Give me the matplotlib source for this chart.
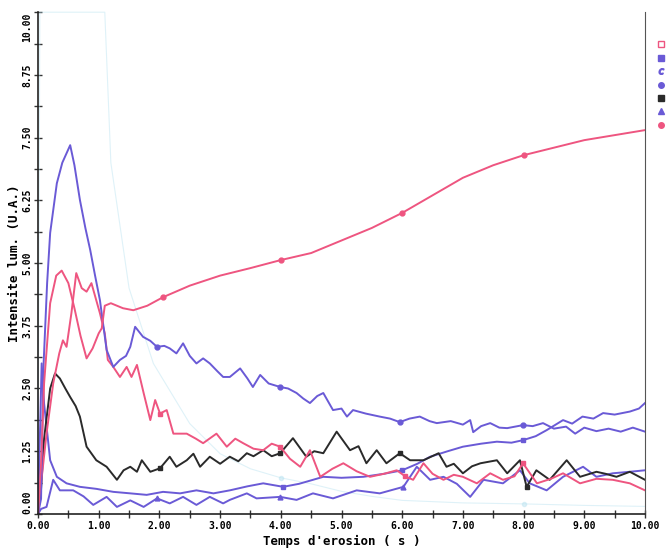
import numpy as np
import matplotlib
matplotlib.use("Agg")
from matplotlib import pyplot as plt
from matplotlib.lines import Line2D
from matplotlib.ticker import MultipleLocator

# pink, smooth rising curve
pink_a_x = [0, 0.05, 0.1, 0.2, 0.3, 0.39, 0.5, 0.6, 0.7, 0.8, 0.9, 1.0, 1.05, 1.1, 1.2, 1.4, 1.57, 1.8,
            2.06, 2.5, 3.0, 3.5, 4.0, 4.5, 5.0, 5.5, 6.0, 6.5, 7.0, 7.5, 8.0, 8.5, 9.0, 9.5, 10.0]
pink_a_y = [0, 1.0, 2.6, 4.2, 4.75, 4.85, 4.6, 4.1, 3.55, 3.1, 3.3, 3.6, 3.7, 4.15, 4.2, 4.1, 4.06, 4.15,
            4.32, 4.55, 4.75, 4.9, 5.06, 5.2, 5.45, 5.7, 6.0, 6.35, 6.7, 6.95, 7.15, 7.3, 7.45, 7.55, 7.65]

# pink, noisy falling curve
pink_b_x = [0, 0.05, 0.14, 0.25, 0.35, 0.41, 0.47, 0.55, 0.63, 0.72, 0.8, 0.88, 0.95, 1.02, 1.1, 1.15,
            1.24, 1.35, 1.46, 1.54, 1.63, 1.74, 1.85, 1.93, 2.01, 2.12, 2.23, 2.45, 2.6, 2.72, 2.94, 3.11,
            3.25, 3.38, 3.55, 3.71, 3.85, 3.99, 4.15, 4.32, 4.48, 4.65, 4.85, 5.03, 5.25, 5.47, 5.7, 5.91,
            6.05, 6.18, 6.35, 6.5, 6.68, 6.85, 7.0, 7.23, 7.45, 7.66, 7.85, 7.99, 8.22, 8.45, 8.65, 8.93,
            9.2, 9.47, 9.75, 10.0]
pink_b_y = [0, 0.6, 1.6, 2.6, 3.2, 3.46, 3.33, 4.0, 4.8, 4.5, 4.43, 4.6, 4.3, 4.0, 3.6, 3.07,
            2.93, 2.73, 2.93, 2.73, 2.97, 2.41, 1.87, 2.27, 2.0, 2.07, 1.6, 1.6, 1.5, 1.41, 1.6, 1.34,
            1.5, 1.41, 1.3, 1.27, 1.4, 1.34, 1.1, 0.94, 1.27, 0.74, 0.9, 1.01, 0.85, 0.74, 0.8, 0.87,
            0.75, 0.68, 1.01, 0.8, 0.68, 0.78, 0.74, 0.61, 0.81, 0.68, 0.75, 1.01, 0.61, 0.7, 0.81, 0.61,
            0.7, 0.68, 0.61, 0.47]

# blue, big early peak
blue_c_x = [0, 0.05, 0.09, 0.15, 0.2, 0.31, 0.4, 0.53, 0.6, 0.69, 0.78, 0.86, 0.94, 1.02, 1.13, 1.24,
            1.35, 1.45, 1.52, 1.6, 1.73, 1.85, 1.96, 2.08, 2.17, 2.28, 2.39, 2.5, 2.61, 2.72, 2.83, 2.95,
            3.05, 3.16, 3.33, 3.45, 3.54, 3.66, 3.8, 3.99, 4.12, 4.26, 4.37, 4.48, 4.6, 4.7, 4.86, 5.0,
            5.09, 5.19, 5.4, 5.63, 5.8, 5.96, 6.12, 6.29, 6.45, 6.57, 6.8, 7.0, 7.12, 7.17, 7.3, 7.45,
            7.6, 7.73, 7.99, 8.15, 8.32, 8.5, 8.7, 8.85, 9.0, 9.2, 9.4, 9.6, 9.8, 10.0]
blue_c_y = [0, 0.3, 2.94, 4.6, 5.6, 6.59, 7.0, 7.35, 6.95, 6.26, 5.7, 5.26, 4.75, 4.26, 3.27, 2.93,
            3.07, 3.15, 3.33, 3.73, 3.53, 3.45, 3.33, 3.35, 3.3, 3.2, 3.4, 3.15, 3.0, 3.1, 3.0, 2.85,
            2.73, 2.73, 2.9, 2.7, 2.53, 2.77, 2.6, 2.53, 2.5, 2.41, 2.3, 2.21, 2.35, 2.41, 2.07, 2.1,
            1.94, 2.07, 2.0, 1.94, 1.9, 1.83, 1.9, 1.94, 1.85, 1.81, 1.85, 1.78, 1.87, 1.63, 1.75, 1.81,
            1.72, 1.71, 1.77, 1.75, 1.81, 1.7, 1.74, 1.6, 1.72, 1.65, 1.7, 1.64, 1.72, 1.64]

# blue, low then rising
blue_e_x = [0, 0.03, 0.06, 0.1, 0.2, 0.31, 0.47, 0.69, 0.96, 1.24, 1.52, 1.79, 2.06, 2.34, 2.61, 2.89,
            3.16, 3.45, 3.71, 4.04, 4.3, 4.53, 4.7, 5.0, 5.36, 5.7, 6.0, 6.25, 6.46, 6.75, 7.0, 7.3,
            7.56, 7.8, 7.99, 8.2, 8.38, 8.65, 8.8, 8.97, 9.15, 9.31, 9.5, 9.75, 9.9, 10.0]
blue_e_y = [0, 1.5, 3.0, 2.2, 1.07, 0.74, 0.61, 0.54, 0.5, 0.44, 0.41, 0.38, 0.44, 0.41, 0.47, 0.41,
            0.47, 0.55, 0.61, 0.54, 0.6, 0.68, 0.74, 0.72, 0.74, 0.8, 0.87, 1.0, 1.14, 1.25, 1.34, 1.4,
            1.44, 1.42, 1.47, 1.55, 1.67, 1.87, 1.8, 1.94, 1.9, 2.01, 1.98, 2.04, 2.1, 2.21]

# blue, lowest curve
blue_f_x = [0, 0.05, 0.14, 0.25, 0.36, 0.58, 0.75, 0.91, 1.13, 1.3, 1.52, 1.74, 1.96, 2.17, 2.39, 2.61,
            2.83, 3.05, 3.16, 3.44, 3.6, 3.99, 4.26, 4.53, 4.86, 5.25, 5.63, 6.02, 6.24, 6.46, 6.68, 6.9,
            7.12, 7.34, 7.66, 7.94, 8.1, 8.38, 8.65, 8.98, 9.2, 9.47, 9.75, 10.0]
blue_f_y = [0, 0.1, 0.14, 0.68, 0.47, 0.47, 0.35, 0.18, 0.34, 0.14, 0.27, 0.14, 0.31, 0.21, 0.34, 0.18,
            0.34, 0.21, 0.28, 0.41, 0.31, 0.34, 0.28, 0.41, 0.31, 0.47, 0.41, 0.54, 0.94, 0.68, 0.74, 0.6,
            0.34, 0.68, 0.61, 0.87, 0.61, 0.47, 0.74, 0.94, 0.74, 0.81, 0.84, 0.87]

# black curve
black_x = [0, 0.05, 0.1, 0.2, 0.28, 0.36, 0.45, 0.53, 0.62, 0.69, 0.8, 0.96, 1.13, 1.3, 1.41, 1.52,
           1.63, 1.71, 1.85, 2.01, 2.17, 2.28, 2.45, 2.56, 2.67, 2.83, 3.0, 3.16, 3.3, 3.44, 3.55, 3.71,
           3.85, 3.99, 4.2, 4.42, 4.55, 4.7, 4.92, 5.14, 5.28, 5.41, 5.58, 5.74, 5.96, 6.13, 6.35, 6.6,
           6.73, 6.85, 7.0, 7.15, 7.29, 7.56, 7.73, 7.94, 8.05, 8.21, 8.43, 8.71, 8.93, 9.2, 9.35, 9.53,
           9.75, 10.0]
black_y = [0, 0.5, 1.5, 2.5, 2.8, 2.7, 2.5, 2.33, 2.15, 1.94, 1.34, 1.07, 0.94, 0.68, 0.87, 0.94,
           0.84, 1.07, 0.84, 0.91, 1.14, 0.94, 1.07, 1.2, 0.94, 1.14, 1.0, 1.14, 1.05, 1.21, 1.15, 1.27,
           1.15, 1.21, 1.51, 1.14, 1.25, 1.21, 1.64, 1.27, 1.35, 1.01, 1.27, 1.01, 1.21, 1.07, 1.07, 1.21,
           0.94, 1.0, 0.81, 0.95, 1.01, 1.07, 0.81, 1.07, 0.54, 0.87, 0.68, 1.07, 0.74, 0.84, 0.8, 0.74,
           0.84, 0.68]

# faint cyan curve (saturated at the top early on)
cyan_x = [0, 0.03, 0.1, 0.5, 1.1, 1.2, 1.5, 1.9, 2.5, 3.0, 3.5, 4.0, 4.5, 5.0, 5.5, 6.0, 7.0, 8.0, 9.0, 10.0]
cyan_y = [0, 10, 10, 10, 10, 7.0, 4.5, 3.0, 1.8, 1.2, 0.9, 0.72, 0.6, 0.45, 0.35, 0.27, 0.22, 0.2, 0.17, 0.15]

x_ticks = np.arange(0, 10.01, 1.0)
y_ticks = np.arange(0, 10.01, 1.25)

PINK = "#ee5580"
BLUE = "#6a5ad6"
BLACK = "#2a2a2a"
CYAN = "#b8e2f0"

mono = {"family": "DejaVu Sans Mono", "weight": "bold"}


def mark_idx(xs, targets=(2, 4, 6, 8)):
    xs = np.asarray(xs)
    return [int(np.argmin(np.abs(xs - t))) for t in targets]


fig = plt.figure(figsize=(6.67, 5.55), dpi=100)
ax = fig.add_axes([0.057, 0.074, 0.910, 0.904])

ax.plot(cyan_x, cyan_y, color=CYAN, lw=0.8, alpha=0.45, marker="o", ms=3,
        markevery=mark_idx(cyan_x, (4, 8)), clip_on=False)
ax.plot(blue_f_x, blue_f_y, color=BLUE, lw=1.4, marker="^", ms=3.5, markevery=mark_idx(blue_f_x, (2, 4, 6)))
ax.plot(blue_e_x, blue_e_y, color=BLUE, lw=1.4, marker="s", ms=3, markevery=mark_idx(blue_e_x, (4, 6, 8)))
ax.plot(black_x, black_y, color=BLACK, lw=1.4, marker="s", ms=3, markevery=mark_idx(black_x))
ax.plot(pink_b_x, pink_b_y, color=PINK, lw=1.4, marker="s", ms=3, markevery=mark_idx(pink_b_x))
ax.plot(blue_c_x, blue_c_y, color=BLUE, lw=1.4, marker="o", ms=3.5, markevery=mark_idx(blue_c_x))
ax.plot(pink_a_x, pink_a_y, color=PINK, lw=1.4, marker="o", ms=3.5, markevery=mark_idx(pink_a_x))

ax.set_xlim(0, 10)
ax.set_ylim(0, 10)
ax.spines["top"].set_visible(False)
ax.spines["right"].set_color("#555555")
for s in ("left", "bottom"):
    ax.spines[s].set_color("#222222")
    ax.spines[s].set_linewidth(1.2)

ax.set_xticks(x_ticks)
ax.set_xticklabels(["%.2f" % v for v in x_ticks], fontdict=mono, fontsize=7)
ax.xaxis.set_minor_locator(MultipleLocator(0.5))
ax.set_yticks(y_ticks)
ylabels = ax.set_yticklabels(["%.2f" % v for v in y_ticks], fontdict=mono, fontsize=7,
                             rotation=90, va="center")
# end labels sit inside the axis span
ylabels[0].set_va("bottom")
ylabels[-1].set_va("top")
ax.yaxis.set_minor_locator(MultipleLocator(0.625))
ax.tick_params(axis="both", which="both", direction="inout", length=6, width=1, color="#333333")
ax.tick_params(axis="y", pad=1)
ax.tick_params(axis="x", pad=2)

ax.set_xlabel("Temps d'erosion ( s )", fontdict=mono, fontsize=9, labelpad=3)
ax.set_ylabel("Intensite lum. (U.A.)", fontdict=mono, fontsize=9, labelpad=1)

# marker-only key on the right edge
handles = [
    Line2D([], [], ls="none", marker="s", color=PINK, mfc="white", ms=4),
    Line2D([], [], ls="none", marker="s", color=BLUE, ms=4),
    Line2D([], [], ls="none", marker="$c$", color=BLUE, ms=4),
    Line2D([], [], ls="none", marker="o", color=BLUE, ms=4),
    Line2D([], [], ls="none", marker="s", color=BLACK, ms=4),
    Line2D([], [], ls="none", marker="^", color=BLUE, ms=4),
    Line2D([], [], ls="none", marker="o", color=PINK, ms=4),
]
fig.legend(handles, [""] * len(handles), loc="upper right", bbox_to_anchor=(0.998, 0.93),
           frameon=False, handlelength=0.8, handletextpad=0, labelspacing=0.35, fontsize=7,
           borderpad=0.1, borderaxespad=0)

fig.savefig("out.png", dpi=100)
